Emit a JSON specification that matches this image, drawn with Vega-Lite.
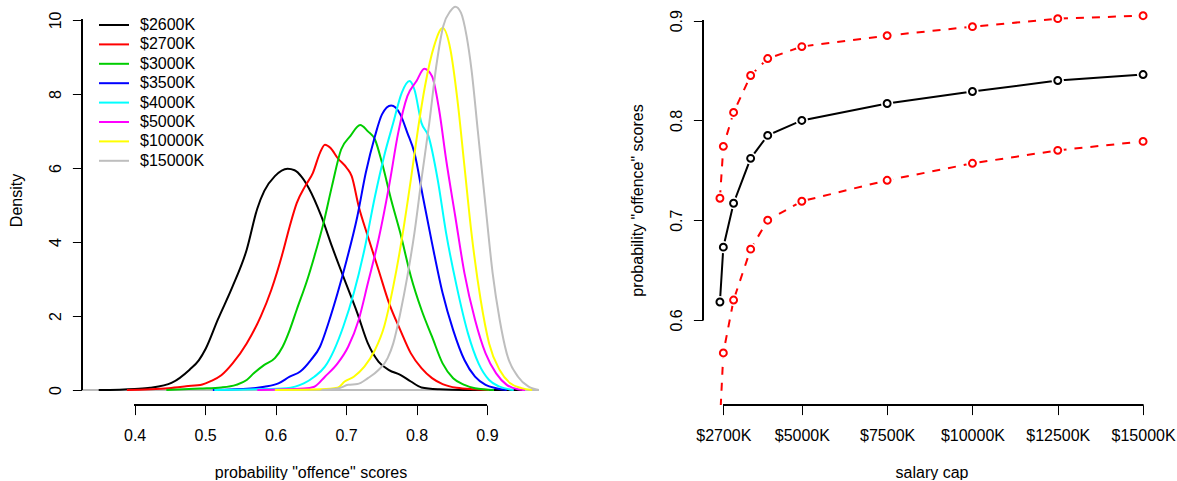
{
  "$schema": "https://vega.github.io/schema/vega-lite/v6.json",
  "autosize": {"type": "pad"},
  "padding": {"left": 8, "top": 0, "right": 0, "bottom": 0},
  "spacing": 164,
  "bounds": "flush",
  "config": {
    "view": {"stroke": null, "fill": "white"},
    "font": "Liberation Sans",
    "axis": {"domain": false, "grid": false, "tickColor": "#000", "tickSize": 9.6, "tickWidth": 1,
      "labelColor": "#000", "labelFontSize": 16, "titleFontSize": 16, "titleFontWeight": "normal", "titleColor": "#000",
      "labelFont": "Liberation Sans", "titleFont": "Liberation Sans"}
  },
  "datasets": {
    "dens": [
      {"cap":"$2600K","x":0.349,"d":0},{"cap":"$2600K","x":0.4,"d":0.03},{"cap":"$2600K","x":0.422,"d":0.06},{"cap":"$2600K","x":0.453,"d":0.2},{"cap":"$2600K","x":0.478,"d":0.55},{"cap":"$2600K","x":0.491,"d":0.8},{"cap":"$2600K","x":0.501,"d":1.12},{"cap":"$2600K","x":0.518,"d":1.9},{"cap":"$2600K","x":0.539,"d":2.8},{"cap":"$2600K","x":0.559,"d":3.79},{"cap":"$2600K","x":0.574,"d":4.9},{"cap":"$2600K","x":0.584,"d":5.38},{"cap":"$2600K","x":0.599,"d":5.78},{"cap":"$2600K","x":0.617,"d":5.98},{"cap":"$2600K","x":0.627,"d":5.94},{"cap":"$2600K","x":0.637,"d":5.76},{"cap":"$2600K","x":0.647,"d":5.46},{"cap":"$2600K","x":0.665,"d":4.69},{"cap":"$2600K","x":0.68,"d":3.88},{"cap":"$2600K","x":0.696,"d":3.07},{"cap":"$2600K","x":0.716,"d":2.08},{"cap":"$2600K","x":0.731,"d":1.26},{"cap":"$2600K","x":0.746,"d":0.77},{"cap":"$2600K","x":0.761,"d":0.54},{"cap":"$2600K","x":0.777,"d":0.41},{"cap":"$2600K","x":0.792,"d":0.23},{"cap":"$2600K","x":0.807,"d":0.07},{"cap":"$2600K","x":0.832,"d":0.02},{"cap":"$2600K","x":0.868,"d":0},{"cap":"$2600K","x":0.95,"d":0},
      {"cap":"$2700K","x":0.389,"d":0},{"cap":"$2700K","x":0.448,"d":0.05},{"cap":"$2700K","x":0.473,"d":0.1},{"cap":"$2700K","x":0.496,"d":0.15},{"cap":"$2700K","x":0.508,"d":0.24},{"cap":"$2700K","x":0.523,"d":0.4},{"cap":"$2700K","x":0.539,"d":0.72},{"cap":"$2700K","x":0.559,"d":1.26},{"cap":"$2700K","x":0.579,"d":1.99},{"cap":"$2700K","x":0.594,"d":2.71},{"cap":"$2700K","x":0.61,"d":3.7},{"cap":"$2700K","x":0.62,"d":4.42},{"cap":"$2700K","x":0.63,"d":5.05},{"cap":"$2700K","x":0.642,"d":5.51},{"cap":"$2700K","x":0.653,"d":5.87},{"cap":"$2700K","x":0.663,"d":6.41},{"cap":"$2700K","x":0.67,"d":6.63},{"cap":"$2700K","x":0.678,"d":6.54},{"cap":"$2700K","x":0.688,"d":6.27},{"cap":"$2700K","x":0.701,"d":6.0},{"cap":"$2700K","x":0.708,"d":5.78},{"cap":"$2700K","x":0.718,"d":4.96},{"cap":"$2700K","x":0.731,"d":4.15},{"cap":"$2700K","x":0.746,"d":3.25},{"cap":"$2700K","x":0.761,"d":2.35},{"cap":"$2700K","x":0.777,"d":1.62},{"cap":"$2700K","x":0.792,"d":0.99},{"cap":"$2700K","x":0.807,"d":0.59},{"cap":"$2700K","x":0.822,"d":0.32},{"cap":"$2700K","x":0.837,"d":0.16},{"cap":"$2700K","x":0.857,"d":0.06},{"cap":"$2700K","x":0.883,"d":0.02},{"cap":"$2700K","x":0.903,"d":0},
      {"cap":"$3000K","x":0.445,"d":0},{"cap":"$3000K","x":0.493,"d":0.04},{"cap":"$3000K","x":0.523,"d":0.07},{"cap":"$3000K","x":0.544,"d":0.14},{"cap":"$3000K","x":0.559,"d":0.27},{"cap":"$3000K","x":0.569,"d":0.45},{"cap":"$3000K","x":0.584,"d":0.68},{"cap":"$3000K","x":0.599,"d":0.86},{"cap":"$3000K","x":0.61,"d":1.17},{"cap":"$3000K","x":0.62,"d":1.62},{"cap":"$3000K","x":0.63,"d":2.17},{"cap":"$3000K","x":0.645,"d":2.98},{"cap":"$3000K","x":0.655,"d":3.61},{"cap":"$3000K","x":0.668,"d":4.51},{"cap":"$3000K","x":0.68,"d":5.51},{"cap":"$3000K","x":0.693,"d":6.5},{"cap":"$3000K","x":0.706,"d":6.86},{"cap":"$3000K","x":0.72,"d":7.16},{"cap":"$3000K","x":0.731,"d":6.99},{"cap":"$3000K","x":0.741,"d":6.77},{"cap":"$3000K","x":0.751,"d":6.14},{"cap":"$3000K","x":0.764,"d":5.14},{"cap":"$3000K","x":0.777,"d":4.24},{"cap":"$3000K","x":0.792,"d":3.07},{"cap":"$3000K","x":0.807,"d":2.17},{"cap":"$3000K","x":0.822,"d":1.44},{"cap":"$3000K","x":0.837,"d":0.72},{"cap":"$3000K","x":0.852,"d":0.32},{"cap":"$3000K","x":0.868,"d":0.14},{"cap":"$3000K","x":0.883,"d":0.05},{"cap":"$3000K","x":0.91,"d":0},
      {"cap":"$3500K","x":0.511,"d":0},{"cap":"$3500K","x":0.564,"d":0.04},{"cap":"$3500K","x":0.584,"d":0.09},{"cap":"$3500K","x":0.604,"d":0.18},{"cap":"$3500K","x":0.62,"d":0.36},{"cap":"$3500K","x":0.635,"d":0.5},{"cap":"$3500K","x":0.65,"d":0.81},{"cap":"$3500K","x":0.663,"d":1.17},{"cap":"$3500K","x":0.675,"d":1.81},{"cap":"$3500K","x":0.688,"d":2.62},{"cap":"$3500K","x":0.701,"d":3.52},{"cap":"$3500K","x":0.716,"d":4.69},{"cap":"$3500K","x":0.728,"d":5.87},{"cap":"$3500K","x":0.741,"d":6.86},{"cap":"$3500K","x":0.751,"d":7.45},{"cap":"$3500K","x":0.764,"d":7.69},{"cap":"$3500K","x":0.777,"d":7.45},{"cap":"$3500K","x":0.787,"d":6.95},{"cap":"$3500K","x":0.797,"d":6.41},{"cap":"$3500K","x":0.809,"d":5.23},{"cap":"$3500K","x":0.822,"d":3.97},{"cap":"$3500K","x":0.837,"d":2.62},{"cap":"$3500K","x":0.852,"d":1.62},{"cap":"$3500K","x":0.868,"d":0.81},{"cap":"$3500K","x":0.883,"d":0.36},{"cap":"$3500K","x":0.898,"d":0.14},{"cap":"$3500K","x":0.913,"d":0.05},{"cap":"$3500K","x":0.928,"d":0},
      {"cap":"$4000K","x":0.513,"d":0},{"cap":"$4000K","x":0.574,"d":0.02},{"cap":"$4000K","x":0.615,"d":0.05},{"cap":"$4000K","x":0.64,"d":0.18},{"cap":"$4000K","x":0.655,"d":0.36},{"cap":"$4000K","x":0.67,"d":0.63},{"cap":"$4000K","x":0.683,"d":1.08},{"cap":"$4000K","x":0.696,"d":1.71},{"cap":"$4000K","x":0.711,"d":2.62},{"cap":"$4000K","x":0.726,"d":3.79},{"cap":"$4000K","x":0.741,"d":5.23},{"cap":"$4000K","x":0.754,"d":6.32},{"cap":"$4000K","x":0.767,"d":7.22},{"cap":"$4000K","x":0.779,"d":8.03},{"cap":"$4000K","x":0.79,"d":8.35},{"cap":"$4000K","x":0.797,"d":8.12},{"cap":"$4000K","x":0.807,"d":7.22},{"cap":"$4000K","x":0.817,"d":6.86},{"cap":"$4000K","x":0.83,"d":5.69},{"cap":"$4000K","x":0.842,"d":4.24},{"cap":"$4000K","x":0.857,"d":2.8},{"cap":"$4000K","x":0.873,"d":1.53},{"cap":"$4000K","x":0.888,"d":0.72},{"cap":"$4000K","x":0.903,"d":0.27},{"cap":"$4000K","x":0.918,"d":0.09},{"cap":"$4000K","x":0.938,"d":0},
      {"cap":"$5000K","x":0.574,"d":0},{"cap":"$5000K","x":0.64,"d":0.04},{"cap":"$5000K","x":0.655,"d":0.09},{"cap":"$5000K","x":0.67,"d":0.36},{"cap":"$5000K","x":0.688,"d":0.72},{"cap":"$5000K","x":0.703,"d":1.17},{"cap":"$5000K","x":0.718,"d":1.9},{"cap":"$5000K","x":0.731,"d":2.89},{"cap":"$5000K","x":0.746,"d":4.06},{"cap":"$5000K","x":0.761,"d":5.51},{"cap":"$5000K","x":0.774,"d":6.95},{"cap":"$5000K","x":0.787,"d":7.94},{"cap":"$5000K","x":0.8,"d":8.35},{"cap":"$5000K","x":0.811,"d":8.68},{"cap":"$5000K","x":0.822,"d":8.48},{"cap":"$5000K","x":0.832,"d":7.58},{"cap":"$5000K","x":0.842,"d":6.23},{"cap":"$5000K","x":0.855,"d":4.69},{"cap":"$5000K","x":0.868,"d":3.16},{"cap":"$5000K","x":0.883,"d":1.9},{"cap":"$5000K","x":0.898,"d":0.99},{"cap":"$5000K","x":0.913,"d":0.45},{"cap":"$5000K","x":0.928,"d":0.14},{"cap":"$5000K","x":0.944,"d":0.02},{"cap":"$5000K","x":0.954,"d":0},
      {"cap":"$10000K","x":0.599,"d":0},{"cap":"$10000K","x":0.665,"d":0.02},{"cap":"$10000K","x":0.688,"d":0.06},{"cap":"$10000K","x":0.698,"d":0.23},{"cap":"$10000K","x":0.711,"d":0.36},{"cap":"$10000K","x":0.726,"d":0.63},{"cap":"$10000K","x":0.741,"d":1.08},{"cap":"$10000K","x":0.754,"d":1.71},{"cap":"$10000K","x":0.767,"d":2.8},{"cap":"$10000K","x":0.779,"d":4.06},{"cap":"$10000K","x":0.792,"d":5.69},{"cap":"$10000K","x":0.802,"d":7.04},{"cap":"$10000K","x":0.812,"d":8.21},{"cap":"$10000K","x":0.825,"d":9.3},{"cap":"$10000K","x":0.837,"d":9.78},{"cap":"$10000K","x":0.848,"d":9.21},{"cap":"$10000K","x":0.858,"d":7.85},{"cap":"$10000K","x":0.868,"d":6.05},{"cap":"$10000K","x":0.878,"d":4.24},{"cap":"$10000K","x":0.891,"d":2.44},{"cap":"$10000K","x":0.903,"d":1.26},{"cap":"$10000K","x":0.918,"d":0.54},{"cap":"$10000K","x":0.933,"d":0.18},{"cap":"$10000K","x":0.949,"d":0.05},{"cap":"$10000K","x":0.964,"d":0},
      {"cap":"$15000K","x":0.665,"d":0},{"cap":"$15000K","x":0.69,"d":0.05},{"cap":"$15000K","x":0.703,"d":0.14},{"cap":"$15000K","x":0.716,"d":0.16},{"cap":"$15000K","x":0.731,"d":0.32},{"cap":"$15000K","x":0.746,"d":0.54},{"cap":"$15000K","x":0.759,"d":0.86},{"cap":"$15000K","x":0.767,"d":1.26},{"cap":"$15000K","x":0.777,"d":2.08},{"cap":"$15000K","x":0.787,"d":3.07},{"cap":"$15000K","x":0.797,"d":4.24},{"cap":"$15000K","x":0.807,"d":5.69},{"cap":"$15000K","x":0.818,"d":7.2},{"cap":"$15000K","x":0.828,"d":8.75},{"cap":"$15000K","x":0.838,"d":9.84},{"cap":"$15000K","x":0.848,"d":10.24},{"cap":"$15000K","x":0.855,"d":10.36},{"cap":"$15000K","x":0.863,"d":10.2},{"cap":"$15000K","x":0.871,"d":9.57},{"cap":"$15000K","x":0.878,"d":8.66},{"cap":"$15000K","x":0.887,"d":7.0},{"cap":"$15000K","x":0.898,"d":4.96},{"cap":"$15000K","x":0.908,"d":3.16},{"cap":"$15000K","x":0.918,"d":1.9},{"cap":"$15000K","x":0.928,"d":0.99},{"cap":"$15000K","x":0.944,"d":0.36},{"cap":"$15000K","x":0.959,"d":0.09},{"cap":"$15000K","x":0.974,"d":0}
    ],
    "sal": [
      {"s":2600,"band":"mean","p":0.618},{"s":2700,"band":"mean","p":0.673},{"s":3000,"band":"mean","p":0.717},{"s":3500,"band":"mean","p":0.762},{"s":4000,"band":"mean","p":0.785},{"s":5000,"band":"mean","p":0.8},{"s":7500,"band":"mean","p":0.817},{"s":10000,"band":"mean","p":0.829},{"s":12500,"band":"mean","p":0.84},{"s":15000,"band":"mean","p":0.846},
      {"s":2600,"band":"upper","p":0.722},{"s":2700,"band":"upper","p":0.774},{"s":3000,"band":"upper","p":0.808},{"s":3500,"band":"upper","p":0.845},{"s":4000,"band":"upper","p":0.862},{"s":5000,"band":"upper","p":0.874},{"s":7500,"band":"upper","p":0.885},{"s":10000,"band":"upper","p":0.894},{"s":12500,"band":"upper","p":0.902},{"s":15000,"band":"upper","p":0.905},
      {"s":2600,"band":"lower","p":0.497},{"s":2700,"band":"lower","p":0.567},{"s":3000,"band":"lower","p":0.62},{"s":3500,"band":"lower","p":0.671},{"s":4000,"band":"lower","p":0.7},{"s":5000,"band":"lower","p":0.719},{"s":7500,"band":"lower","p":0.74},{"s":10000,"band":"lower","p":0.757},{"s":12500,"band":"lower","p":0.77},{"s":15000,"band":"lower","p":0.779}
    ]
  },
  "hconcat": [
    {
      "width": 457, "height": 405,
      "data": {"name": "dens"},
      "layer": [
        {"mark": {"type": "rule", "color": "#BEBEBE", "strokeWidth": 0.6}, "encoding": {"y": {"datum": 0, "type": "quantitative"}}},
        {
          "mark": {"type": "line", "strokeWidth": 2, "clip": true, "interpolate": "monotone"},
          "encoding": {
            "x": {"field": "x", "type": "quantitative", "scale": {"domain": [0.3253, 0.9738], "nice": false, "zero": false},
              "axis": {"values": [0.4, 0.5, 0.6, 0.7, 0.8, 0.9], "format": ".1f", "labelBaseline": "middle", "labelPadding": 20.4,
                "title": "probability \"offence\" scores", "titleY": 67, "titleBaseline": "middle"}},
            "y": {"field": "d", "type": "quantitative", "scale": {"domain": [-0.405, 10.54], "nice": false, "zero": false},
              "axis": {"values": [0, 2, 4, 6, 8, 10], "labelAngle": 270, "labelAlign": "center", "labelBaseline": "middle", "labelPadding": 17.4,
                "title": "Density", "titleX": -66, "titleY": 200, "titleAngle": 270, "titleAlign": "center", "titleBaseline": "middle"}},
            "color": {"field": "cap", "type": "nominal",
              "scale": {"domain": ["$2600K", "$2700K", "$3000K", "$3500K", "$4000K", "$5000K", "$10000K", "$15000K"],
                "range": ["#000000", "#FF0000", "#00CD00", "#0000FF", "#00FFFF", "#FF00FF", "#FFFF00", "#BEBEBE"]},
              "legend": {"orient": "none", "legendX": 24, "legendY": 17, "title": null, "symbolType": "M-3,0H3", "symbolSize": 100,
                "symbolStrokeWidth": 2, "labelFontSize": 16, "labelFont": "Liberation Sans", "labelColor": "#000", "labelOffset": 18, "rowPadding": 3.4, "padding": 0}}
          }
        },
        {"mark": {"type": "rule", "color": "#000", "strokeWidth": 1}, "encoding": {"x": {"datum": 0.4, "type": "quantitative"}, "x2": {"datum": 0.9}, "y": {"datum": -0.405, "type": "quantitative"}}},
        {"mark": {"type": "rule", "color": "#000", "strokeWidth": 1}, "encoding": {"y": {"datum": 0, "type": "quantitative"}, "y2": {"datum": 10}, "x": {"datum": 0.3253, "type": "quantitative"}}}
      ]
    },
    {
      "width": 457, "height": 405,
      "data": {"name": "sal"},
      "encoding": {
        "x": {"field": "s", "type": "quantitative", "scale": {"domain": [2104, 15496], "nice": false, "zero": false},
          "axis": {"values": [2700, 5000, 7500, 10000, 12500, 15000], "labelExpr": "'$' + datum.value + 'K'", "labelBaseline": "middle", "labelPadding": 20.4,
            "title": "salary cap", "titleY": 67, "titleBaseline": "middle"}},
        "y": {"field": "p", "type": "quantitative", "scale": {"domain": [0.5148, 0.9207], "nice": false, "zero": false},
          "axis": {"values": [0.6, 0.7, 0.8, 0.9], "format": ".1f", "labelAngle": 270, "labelAlign": "center", "labelBaseline": "middle", "labelPadding": 17.4,
            "title": "probability \"offence\" scores", "titleX": -66, "titleY": 200, "titleAngle": 270, "titleAlign": "center", "titleBaseline": "middle"}}
      },
      "layer": [
        {"transform": [{"filter": "datum.band != 'mean'"}], "mark": {"type": "line", "color": "#FF0000", "strokeWidth": 2, "strokeDash": [8, 8], "clip": true},
          "encoding": {"detail": {"field": "band"}}},
        {"transform": [{"filter": "datum.band == 'mean'"}], "mark": {"type": "line", "color": "#000", "strokeWidth": 2, "clip": true}},
        {"mark": {"type": "point", "shape": "circle", "filled": true, "color": "white", "size": 150, "opacity": 1, "clip": true}},
        {"mark": {"type": "point", "shape": "circle", "filled": false, "size": 48, "strokeWidth": 2, "opacity": 1, "clip": true},
          "encoding": {"stroke": {"field": "band", "type": "nominal", "scale": {"domain": ["lower", "mean", "upper"], "range": ["#FF0000", "#000000", "#FF0000"]}, "legend": null}}},
        {"mark": {"type": "rule", "color": "#000", "strokeWidth": 1}, "encoding": {"x": {"datum": 2700, "type": "quantitative"}, "x2": {"datum": 15000}, "y": {"datum": 0.5148, "type": "quantitative"}}},
        {"mark": {"type": "rule", "color": "#000", "strokeWidth": 1}, "encoding": {"y": {"datum": 0.6, "type": "quantitative"}, "y2": {"datum": 0.9}, "x": {"datum": 2104, "type": "quantitative"}}}
      ]
    }
  ]
}
